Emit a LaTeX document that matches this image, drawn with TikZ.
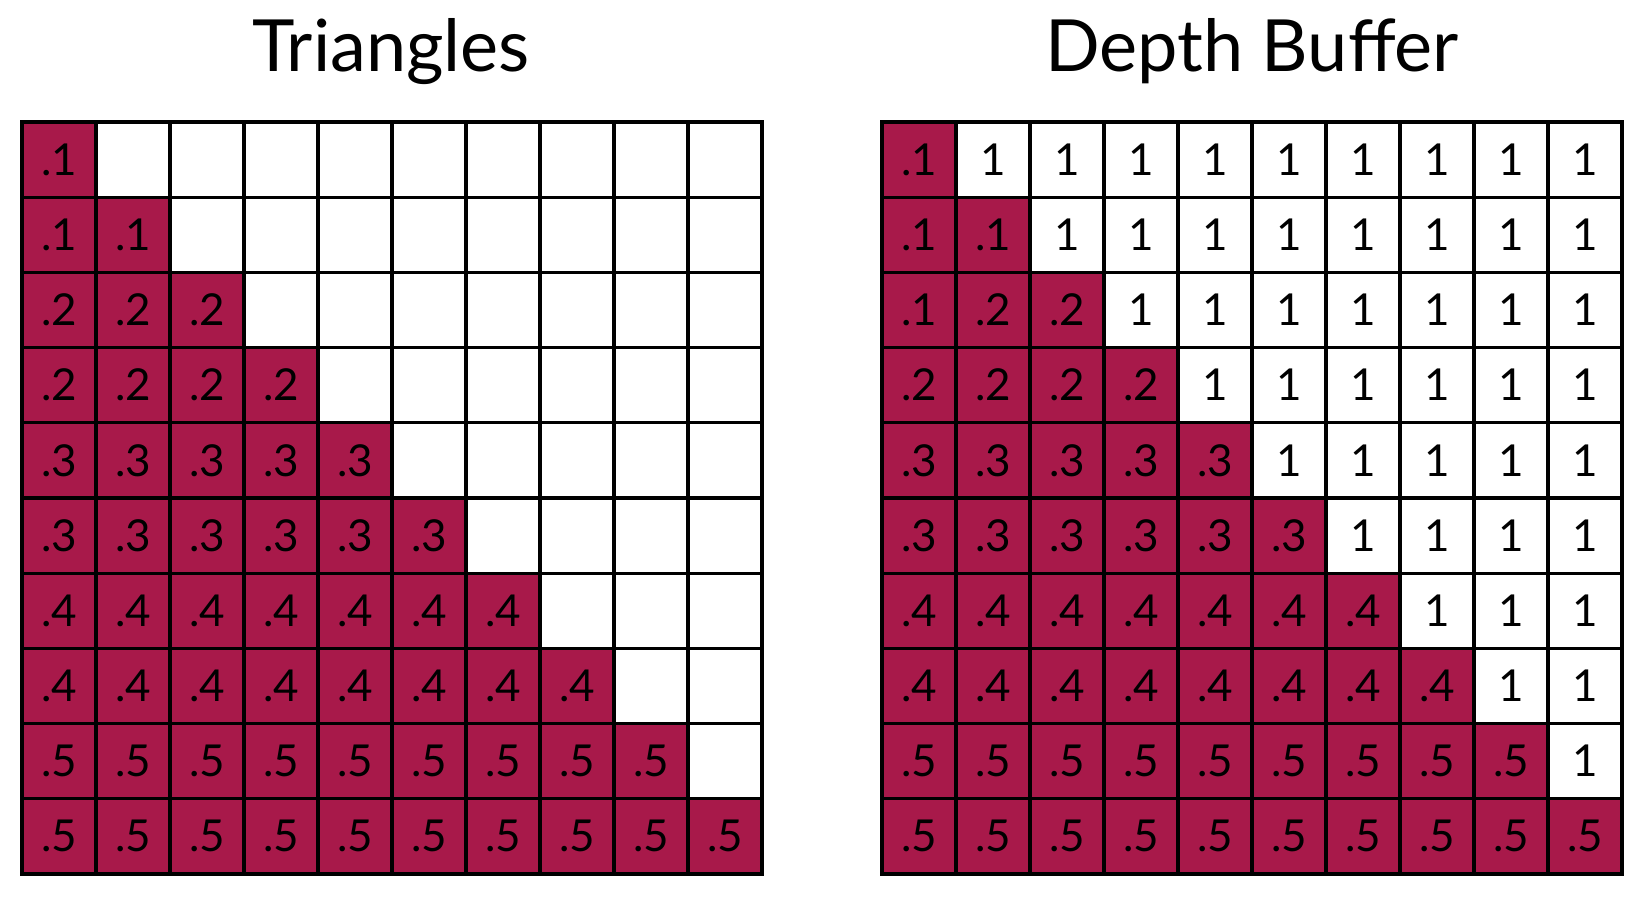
\documentclass[tikz,border=0pt]{standalone}
\usepackage{fontspec}
\setmainfont{Lato}
\usepackage{xcolor}
\usepackage{tikz}
\usetikzlibrary{positioning}

\definecolor{cellred}{HTML}{A8194A}

\begin{document}
\begin{tikzpicture}[
    x=1pt, y=-1pt,
    % Define specific node styles
    title_node/.style={font=\fontsize{72}{76}\selectfont, anchor=base},
    grid_cell/.style={rectangle, draw=black, line width=3.3pt, minimum width=74pt, minimum height=75.2pt, inner sep=0pt, outer sep=0pt, font=\fontsize{44}{46}\selectfont},
    empty_cell/.style={grid_cell, fill=white},
    full_cell/.style={grid_cell, fill=cellred},
]
\useasboundingbox (0,0) rectangle (1650,901);

% Titles
\node[title_node] (tri_title) at (391,72) {Triangles};
\node[title_node] (dep_title) at (1252,72) {Depth Buffer};

% Both grids, row by row
\foreach \r in {1,...,10} {
  \pgfmathtruncatemacro{\v}{(\r+1)/2}
  \foreach \c in {1,...,10} {
    \pgfmathtruncatemacro{\dv}{(\r==3 && \c==1) ? 1 : \v}
    \ifnum\c>\r
      \node[empty_cell] (tri-\r-\c) at ({22+74*(\c-0.5)},{122+75.2*(\r-0.5)}) {};
      \node[empty_cell] (dep-\r-\c) at ({882+74*(\c-0.5)},{122+75.2*(\r-0.5)}) {1};
    \else
      \node[full_cell] (tri-\r-\c) at ({22+74*(\c-0.5)},{122+75.2*(\r-0.5)}) {.\v};
      \node[full_cell] (dep-\r-\c) at ({882+74*(\c-0.5)},{122+75.2*(\r-0.5)}) {.\dv};
    \fi
  }
}

\end{tikzpicture}
\end{document}
